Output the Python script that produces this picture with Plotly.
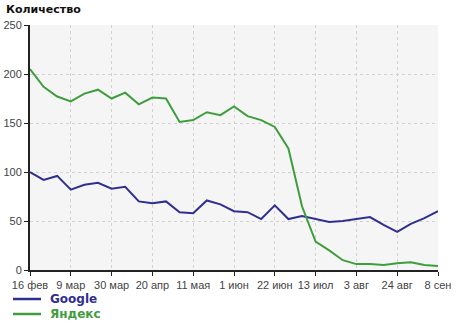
import plotly.graph_objects as go

weeks = list(range(31))
tick_idx = [0, 3, 6, 9, 12, 15, 18, 21, 24, 27, 30]
tick_labels = ["16 фев", "9 мар", "30 мар", "20 апр", "11 мая", "1 июн",
               "22 июн", "13 июл", "3 авг", "24 авг", "8 сен"]

series_names = ["Google", "Яндекс"]
google = [100, 92, 96, 82, 87, 89, 83, 85, 70, 68, 70, 59, 58, 71, 67, 60,
          59, 52, 66, 52, 55, 52, 49, 50, 52, 54, 46, 39, 47, 53, 60]
yandex = [205, 187, 177, 172, 180, 184, 175, 181, 169, 176, 175, 151, 153, 161,
          158, 167, 157, 153, 146, 124, 65, 29, 20, 10, 6, 6, 5, 7, 8, 5, 4]
colors = ["#2e2f8f", "#3e9e3e"]

fig = go.Figure()
for name, vals, col in zip(series_names, [google, yandex], colors):
    fig.add_trace(go.Scatter(x=weeks, y=vals, mode="lines", name=name,
                             line=dict(color=col, width=2), showlegend=False))

# manual legend (below the plot)
W, H = 460, 324
L, R, T, B = 30, 22, 25, 54
pw, ph = W - L - R, H - T - B
def px(x):
    return (x - L) / pw
def py(y):
    return (H - B - y) / ph

shapes = []
annotations = []
for k, (name, col) in enumerate(zip(series_names, colors)):
    yy = 299 + 15 * k
    shapes.append(dict(type="line", xref="paper", yref="paper",
                       x0=px(13), x1=px(41), y0=py(yy), y1=py(yy),
                       line=dict(color=col, width=2.5)))
    annotations.append(dict(text="<b>" + name + "</b>", xref="paper", yref="paper",
                            x=px(48), y=py(yy), xanchor="left", yanchor="middle",
                            showarrow=False,
                            font=dict(size=12, color=col,
                                      family="DejaVu Sans, Verdana, sans-serif")))
annotations.append(dict(text="<b>Количество</b>", xref="paper", yref="paper",
                        x=px(4), y=py(10), xanchor="left", yanchor="middle",
                        showarrow=False,
                        font=dict(size=11, color="#111",
                                  family="DejaVu Sans, Verdana, sans-serif")))

font = "Liberation Sans, Arial, sans-serif"
fig.update_layout(
    width=W, height=H,
    margin=dict(l=L, r=R, t=T, b=B, autoexpand=False),
    paper_bgcolor="white", plot_bgcolor="#f5f5f5",
    font=dict(family=font, size=11, color="#444"),
    showlegend=False,
    xaxis=dict(range=[0, 30], tickvals=tick_idx, ticktext=tick_labels,
               showgrid=True, gridcolor="#d2d2d2", griddash="dot", gridwidth=1,
               showline=True, linecolor="#222", linewidth=2,
               ticks="outside", ticklen=4, tickcolor="#222", automargin=False,
               zeroline=False, tickfont=dict(size=11, color="#444")),
    yaxis=dict(range=[0, 250], dtick=50,
               showgrid=True, gridcolor="#d2d2d2", griddash="dot", gridwidth=1,
               showline=True, linecolor="#222", linewidth=2,
               ticks="outside", ticklen=4, tickcolor="#222", automargin=False,
               zeroline=False, tickfont=dict(size=11, color="#444")),
    shapes=shapes,
    annotations=annotations,
)
fig.write_html("out.html")
